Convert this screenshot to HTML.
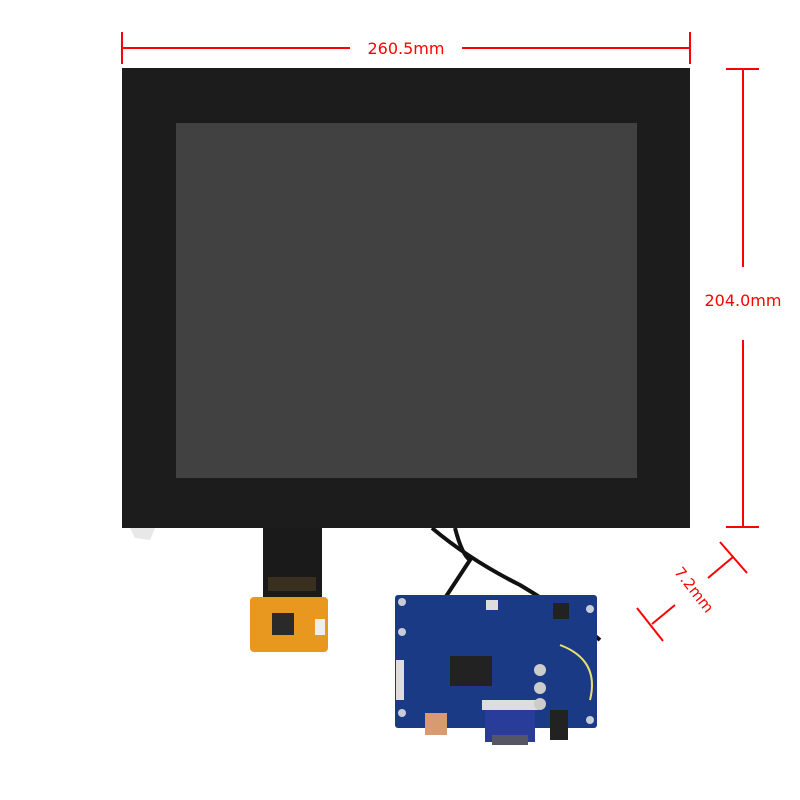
<!DOCTYPE html>
<html><head><meta charset="utf-8"><style>html,body{margin:0;padding:0;background:#fff;width:800px;height:800px;overflow:hidden}</style></head>
<body>
<svg width="800" height="800" viewBox="0 0 800 800" xmlns="http://www.w3.org/2000/svg">
<rect width="800" height="800" fill="#fff"/>
<rect x="122" y="68" width="568" height="460" fill="#1c1c1c"/>
<rect x="176" y="123" width="461" height="355" fill="#414141"/>
<path d="M130 528 L155 528 L150 540 L135 538 Z" fill="#e8e8e8"/>
<g stroke="#ff0000" stroke-width="2" fill="none">
<line x1="122" y1="32" x2="122" y2="64"/>
<line x1="690" y1="32" x2="690" y2="64"/>
<line x1="122" y1="48" x2="350" y2="48"/>
<line x1="462" y1="48" x2="690" y2="48"/>
<line x1="726" y1="69" x2="759" y2="69"/>
<line x1="726" y1="527" x2="759" y2="527"/>
<line x1="743" y1="69" x2="743" y2="267"/>
<line x1="743" y1="340" x2="743" y2="527"/>
<line x1="720" y1="542" x2="747" y2="573"/>
<line x1="733" y1="557" x2="708" y2="578"/>
<line x1="637" y1="608" x2="663" y2="641"/>
<line x1="652" y1="624" x2="675" y2="605"/>
</g>
<g fill="#ff0000" font-family="DejaVu Sans, sans-serif" font-size="16">
<text x="406" y="54" text-anchor="middle">260.5mm</text>
<text x="743" y="306" text-anchor="middle">204.0mm</text>
<text x="0" y="0" text-anchor="middle" font-size="15" transform="translate(690,593) rotate(52)">7.2mm</text>
</g>
<rect x="263" y="528" width="59" height="70" fill="#1a1a1a"/>
<rect x="268" y="577" width="48" height="14" fill="#3a3020"/>
<rect x="250" y="597" width="78" height="55" rx="4" fill="#e8981e"/>
<rect x="272" y="613" width="22" height="22" fill="#2a2a2a"/>
<rect x="315" y="619" width="10" height="16" fill="#eee"/>
<g stroke="#111" stroke-width="4" fill="none">
<path d="M432 528 Q470 560 520 585 Q570 615 600 640"/>
<path d="M455 528 Q462 555 470 560 L445 598"/>
</g>
<rect x="395" y="595" width="202" height="133" rx="3" fill="#1b3a86"/>
<g fill="#c8ccd8"><circle cx="402" cy="602" r="4"/><circle cx="590" cy="609" r="4"/><circle cx="402" cy="632" r="4"/><circle cx="402" cy="713" r="4"/><circle cx="590" cy="720" r="4"/></g>
<rect x="450" y="656" width="42" height="30" fill="#222"/>
<rect x="485" y="700" width="50" height="42" fill="#2a3c9a"/>
<rect x="492" y="735" width="36" height="10" fill="#556"/>
<rect x="425" y="713" width="22" height="22" fill="#d89a70"/>
<rect x="482" y="700" width="56" height="10" fill="#ddd"/>
<rect x="550" y="710" width="18" height="30" fill="#222"/>
<rect x="553" y="603" width="16" height="16" fill="#222"/>
<rect x="486" y="600" width="12" height="10" fill="#ddd"/>
<rect x="396" y="660" width="8" height="40" fill="#ddd"/>
<circle cx="540" cy="670" r="6" fill="#ccc"/>
<circle cx="540" cy="688" r="6" fill="#ccc"/>
<circle cx="540" cy="704" r="6" fill="#ccc"/>
<path d="M560 645 Q600 660 590 700" stroke="#e8e070" stroke-width="2" fill="none"/>
</svg>
</body></html>
